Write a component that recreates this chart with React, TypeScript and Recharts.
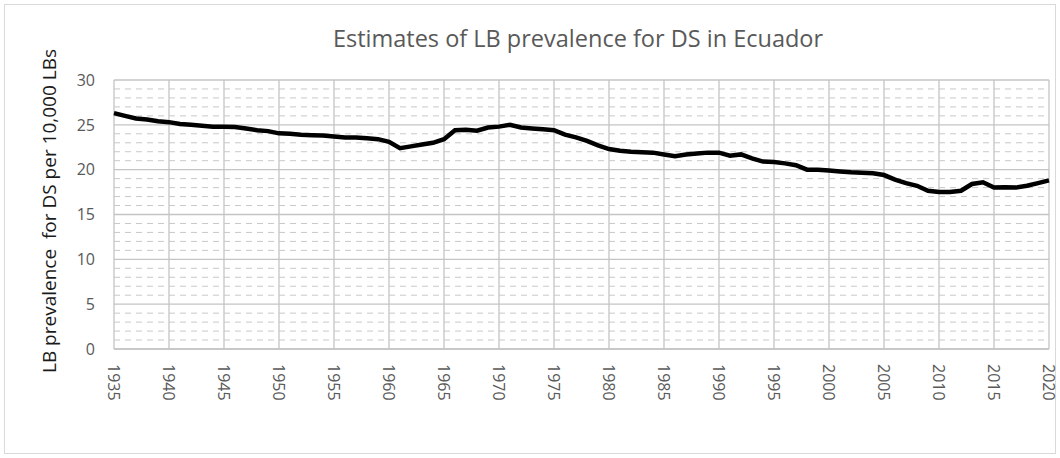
import React from "react";
import {
  LineChart,
  Line,
  XAxis,
  YAxis,
  CartesianGrid,
  ReferenceLine,
} from "recharts";

const years = [
  1935, 1936, 1937, 1938, 1939, 1940, 1941, 1942, 1943, 1944, 1945, 1946,
  1947, 1948, 1949, 1950, 1951, 1952, 1953, 1954, 1955, 1956, 1957, 1958,
  1959, 1960, 1961, 1962, 1963, 1964, 1965, 1966, 1967, 1968, 1969, 1970,
  1971, 1972, 1973, 1974, 1975, 1976, 1977, 1978, 1979, 1980, 1981, 1982,
  1983, 1984, 1985, 1986, 1987, 1988, 1989, 1990, 1991, 1992, 1993, 1994,
  1995, 1996, 1997, 1998, 1999, 2000, 2001, 2002, 2003, 2004, 2005, 2006,
  2007, 2008, 2009, 2010, 2011, 2012, 2013, 2014, 2015, 2016, 2017, 2018,
  2019, 2020,
];

const prevalence = [
  26.3, 26.0, 25.7, 25.6, 25.4, 25.3, 25.1, 25.0, 24.9, 24.8, 24.8, 24.75,
  24.6, 24.4, 24.3, 24.05, 24.0, 23.9, 23.85, 23.8, 23.7, 23.6, 23.6, 23.5,
  23.4, 23.1, 22.4, 22.6, 22.8, 23.0, 23.4, 24.4, 24.45, 24.35, 24.7, 24.8,
  25.0, 24.7, 24.6, 24.5, 24.4, 23.9, 23.6, 23.2, 22.7, 22.3, 22.1, 22.0,
  21.95, 21.9, 21.7, 21.5, 21.7, 21.8, 21.9, 21.9, 21.55, 21.7, 21.25, 20.9,
  20.85, 20.7, 20.5, 20.0, 20.0, 19.9, 19.8, 19.7, 19.65, 19.6, 19.4, 18.9,
  18.5, 18.2, 17.65, 17.5, 17.5, 17.65, 18.4, 18.6, 18.0, 18.05, 18.0, 18.2,
  18.5, 18.8,
];

const xTicks = [
  1935, 1940, 1945, 1950, 1955, 1960, 1965, 1970, 1975, 1980, 1985, 1990,
  1995, 2000, 2005, 2010, 2015, 2020,
];
const yTicks = [0, 5, 10, 15, 20, 25, 30];
const yMinor = [
  1, 2, 3, 4, 6, 7, 8, 9, 11, 12, 13, 14, 16, 17, 18, 19, 21, 22, 23, 24, 26,
  27, 28, 29,
];

const data = years.map((year, i) => ({ year, value: prevalence[i] }));

const FONT = "'Open Sans', 'Noto Sans', sans-serif";

const YearTick = (props: any) => {
  const { x, y, payload } = props;
  return (
    <text
      transform={`translate(${x},${y}) rotate(90)`}
      textAnchor="start"
      dy="0.36em"
      fill="#595959"
      fontSize={16}
      fontFamily={FONT}
    >
      {payload.value}
    </text>
  );
};

export default function App() {
  return (
    <div
      style={{
        position: "absolute",
        left: 0,
        top: 0,
        width: 1060,
        height: 458,
        background: "#fff",
        fontFamily: FONT,
      }}
    >
      <div
        style={{
          position: "absolute",
          left: 4,
          top: 4,
          width: 1050,
          height: 448,
          border: "1px solid #d9d9d9",
        }}
      />
      <div
        style={{
          position: "absolute",
          left: 578,
          top: 38,
          transform: "translate(-50%, -50%)",
          whiteSpace: "nowrap",
          fontSize: 23.5,
          color: "#595959",
        }}
      >
        Estimates of LB prevalence for DS in Ecuador
      </div>
      <div
        style={{
          position: "absolute",
          left: 49,
          top: 211,
          transform: "translate(-50%, -50%) rotate(-90deg)",
          whiteSpace: "pre",
          fontSize: 19,
          color: "#1a1a1a",
        }}
      >
        {"LB prevalence  for DS per 10,000 LBs"}
      </div>
      <div style={{ position: "absolute", left: 0, top: 0 }}>
        <LineChart
          width={1060}
          height={458}
          data={data}
          margin={{ top: 80, right: 11, bottom: 49, left: 0 }}
        >
          {yMinor.map((v) => (
            <ReferenceLine
              key={v}
              y={v}
              stroke="#c8c8c8"
              strokeDasharray="6 5"
            />
          ))}
          <CartesianGrid stroke="#c4c4c4" strokeWidth={1.3} />
          <XAxis
            type="number"
            dataKey="year"
            domain={[1935, 2020]}
            ticks={xTicks}
            interval={0}
            height={60}
            tickLine={false}
            tickSize={0}
            tickMargin={15}
            axisLine={{ stroke: "#c4c4c4", strokeWidth: 1.3 }}
            tick={<YearTick />}
          />
          <YAxis
            domain={[0, 30]}
            ticks={yTicks}
            width={114}
            axisLine={false}
            tickLine={false}
            tickSize={0}
            tickMargin={19}
            tick={{ fill: "#595959", fontSize: 16, fontFamily: FONT }}
          />
          <Line
            type="linear"
            dataKey="value"
            stroke="#000"
            strokeWidth={4.5}
            dot={false}
            isAnimationActive={false}
          />
        </LineChart>
      </div>
    </div>
  );
}
